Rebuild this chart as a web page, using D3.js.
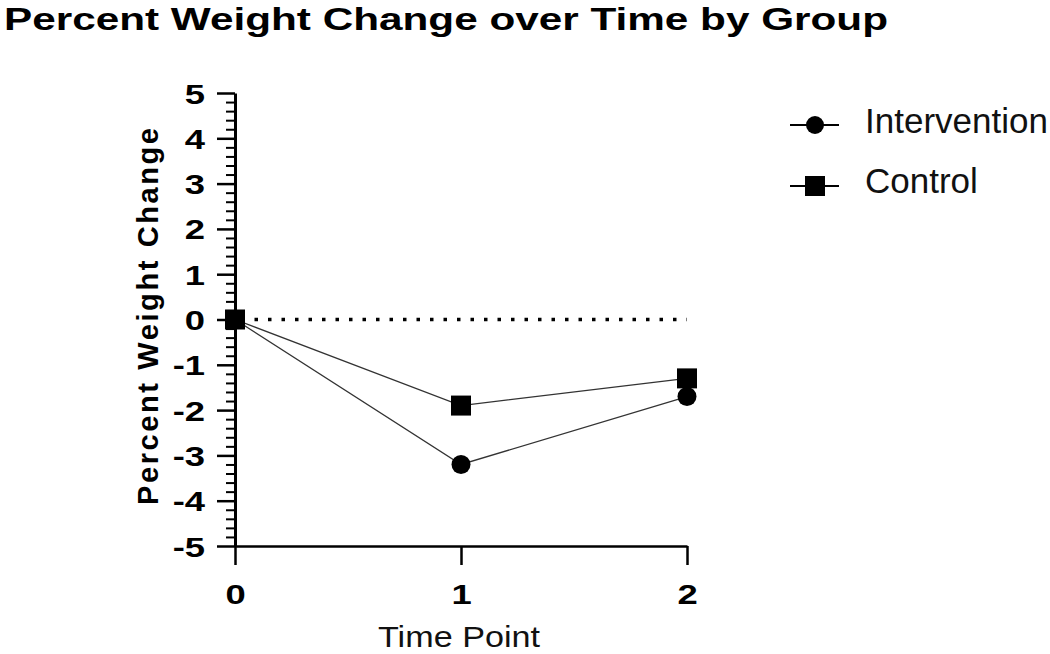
<!DOCTYPE html>
<html>
<head>
<meta charset="utf-8">
<script src="https://cdn.jsdelivr.net/npm/d3@7"></script>
<style>
  body { margin: 0; background: #fff; }
  svg { display: block; }
</style>
</head>
<body>
<div id="graph"></div>
<script>
// data
const timePoints = [0, 1, 2];
const intervention = [0, -3.2, -1.7];
const control = [0, -1.9, -1.3];
const yTicks = [-5, -4, -3, -2, -1, 0, 1, 2, 3, 4, 5];
const xTicks = [0, 1, 2];
const seriesNames = ["Intervention", "Control"];

const width = 1050, height = 654;

const svg = d3.select("#graph").append("svg")
  .attr("width", width)
  .attr("height", height);

// scales
const x = d3.scaleLinear().domain([0, 2]).range([235, 687]);
const y = d3.scaleLinear().domain([-5, 5]).range([546, 93]);

// widen the text a bit, the original looks horizontally stretched
function stretch(sel, k) {
  sel.each(function() {
    const w = this.getComputedTextLength();
    d3.select(this).attr("textLength", w * k).attr("lengthAdjust", "spacingAndGlyphs");
  });
}

// title
svg.append("text")
  .attr("x", 4)
  .attr("y", 30)
  .attr("font-family", "'Liberation Sans', Arial, sans-serif")
  .attr("font-weight", "bold")
  .attr("font-size", 32)
  .attr("textLength", 884)
  .attr("lengthAdjust", "spacingAndGlyphs")
  .text("Percent Weight Change over Time by Group");

// minor y ticks
const minorVals = d3.range(-25, 26).filter(i => i % 5 !== 0).map(i => i / 5);
svg.append("g")
  .attr("transform", `translate(${x(0)},0)`)
  .call(d3.axisLeft(y).tickValues(minorVals).tickSize(9).tickFormat(""))
  .call(g => g.select(".domain").remove())
  .call(g => g.selectAll("line").attr("stroke", "#000").attr("stroke-width", 2));

// major y axis
const yAxis = svg.append("g")
  .attr("transform", `translate(${x(0)},0)`)
  .call(d3.axisLeft(y).tickValues(yTicks).tickSize(18).tickSizeOuter(0).tickPadding(12)
    .tickFormat(d => String(d)));
yAxis.select(".domain").attr("stroke", "#000").attr("stroke-width", 3);
yAxis.selectAll("line").attr("stroke", "#000").attr("stroke-width", 2.5);
yAxis.selectAll("text")
  .attr("fill", "#000")
  .attr("dy", "0.36em")
  .attr("font-family", "'Liberation Sans', Arial, sans-serif")
  .attr("font-weight", "bold")
  .attr("font-size", 28)
  .call(stretch, 1.3);

// x axis
const xAxis = svg.append("g")
  .attr("transform", `translate(0,${y(-5)})`)
  .call(d3.axisBottom(x).tickValues(xTicks).tickSize(19).tickSizeOuter(0).tickFormat(d => String(d)));
xAxis.select(".domain").attr("stroke", "#000").attr("stroke-width", 2.5);
xAxis.selectAll("line").attr("stroke", "#000").attr("stroke-width", 2.5);
xAxis.selectAll("text")
  .attr("fill", "#000")
  .attr("y", 58)
  .attr("dy", null)
  .attr("font-family", "'Liberation Sans', Arial, sans-serif")
  .attr("font-weight", "bold")
  .attr("font-size", 28)
  .call(stretch, 1.3);

// axis titles
svg.append("text")
  .attr("transform", `translate(158,${(128 + 505) / 2}) rotate(-90)`)
  .attr("text-anchor", "middle")
  .attr("font-family", "'Liberation Sans', Arial, sans-serif")
  .attr("font-weight", "bold")
  .attr("font-size", 29)
  .attr("textLength", 377)
  .attr("lengthAdjust", "spacing")
  .text("Percent Weight Change");

svg.append("text")
  .attr("x", 459)
  .attr("y", 647)
  .attr("text-anchor", "middle")
  .attr("font-family", "'Liberation Sans', Arial, sans-serif")
  .attr("font-size", 29)
  .attr("fill", "#111")
  .attr("textLength", 162)
  .attr("lengthAdjust", "spacingAndGlyphs")
  .text("Time Point");

// dotted zero line
svg.append("line")
  .attr("x1", x(0) + 6)
  .attr("x2", x(2))
  .attr("y1", y(0))
  .attr("y2", y(0))
  .attr("stroke", "#000")
  .attr("stroke-width", 3.5)
  .attr("stroke-dasharray", "3.5 10");

const line = d3.line().x(d => x(d[0])).y(d => y(d[1]));
const interData = timePoints.map((t, i) => [t, intervention[i]]);
const ctrlData = timePoints.map((t, i) => [t, control[i]]);

[interData, ctrlData].forEach(d => {
  svg.append("path")
    .attr("d", line(d))
    .attr("fill", "none")
    .attr("stroke", "#333")
    .attr("stroke-width", 1.3);
});

// markers
svg.append("g").selectAll("circle")
  .data(interData)
  .join("circle")
  .attr("cx", d => x(d[0]))
  .attr("cy", d => y(d[1]))
  .attr("r", 9.5)
  .attr("fill", "#000");

const sq = 20;
svg.append("g").selectAll("rect")
  .data(ctrlData)
  .join("rect")
  .attr("x", d => x(d[0]) - sq / 2)
  .attr("y", d => y(d[1]) - sq / 2)
  .attr("width", sq)
  .attr("height", sq)
  .attr("fill", "#000");

// legend
const legend = svg.append("g");
const legendY = [125, 186];
seriesNames.forEach((name, i) => {
  const ly = legendY[i];
  legend.append("line")
    .attr("x1", 790).attr("x2", 839)
    .attr("y1", ly).attr("y2", ly)
    .attr("stroke", "#000")
    .attr("stroke-width", 2);
  if (i === 0) {
    legend.append("circle").attr("cx", 815).attr("cy", ly).attr("r", 9).attr("fill", "#000");
  } else {
    legend.append("rect").attr("x", 805).attr("y", ly - 10).attr("width", 20).attr("height", 20).attr("fill", "#000");
  }
  legend.append("text")
    .attr("x", 865)
    .attr("y", i === 0 ? 133 : 193)
    .attr("font-family", "'Liberation Sans', Arial, sans-serif")
    .attr("font-size", 35)
    .attr("fill", "#111")
    .text(name);
});
</script>
</body>
</html>
